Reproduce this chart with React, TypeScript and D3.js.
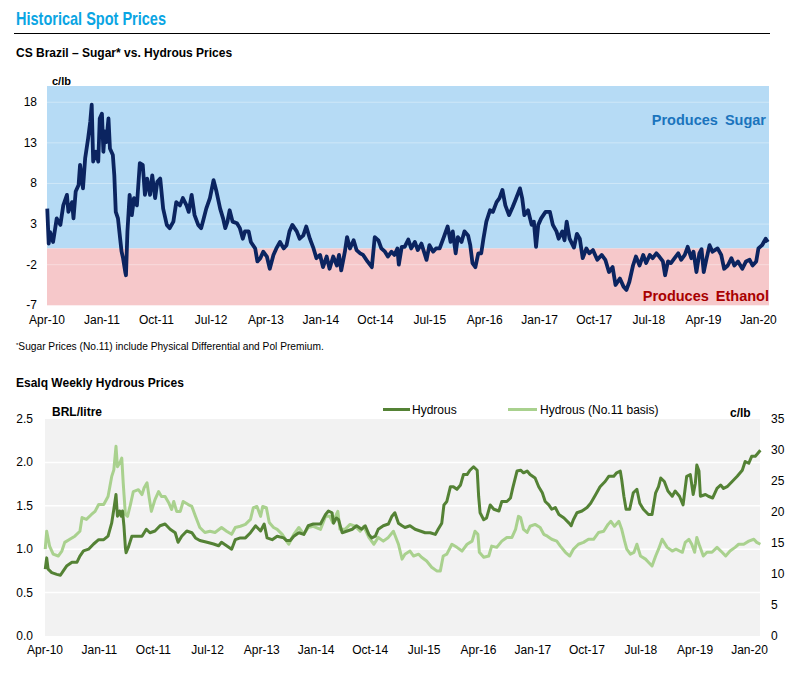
import React from 'react';
import * as d3 from 'd3';

// sugar premium over hydrous, c/lb  [decimal year, value]
const sugarPremium: [number, number][] = [
  [2010.25, 4.9], [2010.27, 0.6], [2010.29, 2.0], [2010.33, 0.8], [2010.38, 3.7], [2010.43, 2.9], [2010.47, 5.3],
  [2010.52, 6.6], [2010.54, 4.5], [2010.59, 5.7], [2010.61, 3.7], [2010.64, 7.0], [2010.68, 7.8], [2010.70, 10.3],
  [2010.74, 7.4], [2010.77, 11.1], [2010.81, 13.5], [2010.84, 15.6], [2010.86, 17.7], [2010.88, 10.7], [2010.92, 11.9],
  [2010.95, 10.7], [2010.97, 16.0], [2011.00, 16.6], [2011.02, 11.9], [2011.04, 14.4], [2011.06, 13.1], [2011.09, 16.0],
  [2011.11, 12.3], [2011.15, 11.5], [2011.17, 9.0], [2011.19, 4.5], [2011.22, 3.7], [2011.25, 1.2], [2011.27, -0.4],
  [2011.29, -1.2], [2011.32, -2.9], [2011.33, -3.3], [2011.35, 2.1], [2011.38, 6.6], [2011.41, 4.1], [2011.44, 6.2],
  [2011.48, 5.3], [2011.52, 10.5], [2011.56, 10.3], [2011.59, 6.6], [2011.62, 8.6], [2011.66, 6.6], [2011.69, 9.0],
  [2011.73, 6.2], [2011.76, 8.2], [2011.80, 8.6], [2011.84, 4.9], [2011.89, 2.9], [2011.93, 2.5], [2011.98, 3.3],
  [2012.02, 5.7], [2012.07, 5.3], [2012.11, 6.2], [2012.16, 5.3], [2012.19, 4.5], [2012.23, 6.6], [2012.27, 4.1],
  [2012.32, 2.9], [2012.36, 2.5], [2012.39, 3.5], [2012.43, 4.9], [2012.48, 6.2], [2012.53, 8.4], [2012.57, 7.0],
  [2012.62, 4.9], [2012.66, 3.7], [2012.69, 2.5], [2012.72, 3.3], [2012.75, 4.7], [2012.79, 3.3], [2012.85, 3.1],
  [2012.89, 2.5], [2012.93, 1.2], [2012.96, 2.1], [2013.01, 2.1], [2013.04, 0.8], [2013.10, 0], [2013.13, -1.6],
  [2013.17, -1.2], [2013.21, -0.4], [2013.26, -1.0], [2013.30, -2.5], [2013.35, -0.8], [2013.39, 0], [2013.44, 0.8],
  [2013.49, 0], [2013.53, 0.4], [2013.57, 2.1], [2013.61, 2.9], [2013.67, 2.1], [2013.71, 1.2], [2013.76, 1.6],
  [2013.80, 2.7], [2013.85, 1.2], [2013.90, 0], [2013.94, -1.2], [2013.99, -0.8], [2014.03, -2.3], [2014.08, -1.0],
  [2014.12, -2.5], [2014.17, -1.0], [2014.22, -2.1], [2014.25, -0.8], [2014.28, -2.7], [2014.33, -0.4], [2014.36, 1.4],
  [2014.40, 0], [2014.45, 1.0], [2014.49, -0.2], [2014.54, -0.6], [2014.58, -0.8], [2014.64, -1.6], [2014.70, -2.3],
  [2014.74, 1.4], [2014.79, 1.0], [2014.83, 0], [2014.88, -0.4], [2014.92, -1.0], [2014.97, -0.4], [2015.01, -0.8],
  [2015.05, 0], [2015.07, -2.0], [2015.11, 0.2], [2015.15, 0.2], [2015.20, 1.1], [2015.24, 0], [2015.29, 0.8],
  [2015.33, -0.2], [2015.38, 0.6], [2015.45, -1.4], [2015.49, 0.4], [2015.54, -0.4], [2015.58, 0], [2015.63, 0],
  [2015.68, 1.2], [2015.74, 2.7], [2015.78, 0.8], [2015.81, 2.1], [2015.85, -0.6], [2015.88, 1.4], [2015.93, 0.8],
  [2015.97, 2.1], [2016.02, 1.6], [2016.05, 0.4], [2016.08, -1.8], [2016.12, -2.3], [2016.16, -0.6], [2016.20, -0.6],
  [2016.23, 1.2], [2016.27, 3.3], [2016.32, 4.7], [2016.36, 4.5], [2016.41, 5.7], [2016.45, 6.2], [2016.49, 7.2],
  [2016.53, 5.3], [2016.58, 4.1], [2016.63, 5.1], [2016.67, 6.0], [2016.73, 7.4], [2016.76, 6.2], [2016.79, 4.1],
  [2016.84, 4.7], [2016.89, 2.9], [2016.92, 3.3], [2016.95, 0.2], [2016.98, 2.9], [2017.02, 3.7], [2017.08, 4.5],
  [2017.14, 4.5], [2017.18, 2.9], [2017.23, 2.1], [2017.26, 1.2], [2017.31, 2.1], [2017.34, 1.0], [2017.37, 3.3],
  [2017.41, 1.2], [2017.47, 0.1], [2017.51, 1.8], [2017.55, 1.2], [2017.59, -1.2], [2017.64, 0], [2017.68, -0.6],
  [2017.73, -0.2], [2017.79, -1.4], [2017.85, -0.8], [2017.90, -1.4], [2017.95, -2.9], [2018.00, -2.3], [2018.04, -4.5],
  [2018.10, -3.7], [2018.15, -4.7], [2018.19, -5.1], [2018.23, -4.1], [2018.28, -2.1], [2018.32, -1.0], [2018.37, -2.1],
  [2018.42, -0.8], [2018.46, -1.8], [2018.51, -0.8], [2018.55, -1.2], [2018.60, -0.6], [2018.64, -1.0], [2018.69, -1.6],
  [2018.72, -3.3], [2018.76, -1.6], [2018.80, -1.8], [2018.85, -1.2], [2018.90, -0.6], [2018.94, -1.4], [2018.99, -0.8],
  [2019.03, 0.2], [2019.08, -1.2], [2019.11, -0.4], [2019.15, -2.9], [2019.19, -0.6], [2019.22, -0.1], [2019.25, -2.9],
  [2019.29, -1.2], [2019.33, 0.4], [2019.37, -0.4], [2019.44, 0], [2019.49, -0.8], [2019.53, -2.5], [2019.58, -2.1],
  [2019.63, -1.2], [2019.67, -2.1], [2019.72, -1.6], [2019.78, -2.5], [2019.83, -1.6], [2019.88, -1.4], [2019.92, -2.1],
  [2019.97, -1.6], [2020.00, 0], [2020.05, 0.4], [2020.10, 1.2], [2020.13, 0.8],
];

// Esalq hydrous, BRL/litre
const hydrous: [number, number][] = [
  [2010.25, 0.77], [2010.27, 0.90], [2010.29, 0.77], [2010.34, 0.73], [2010.41, 0.71], [2010.46, 0.70], [2010.50, 0.75],
  [2010.55, 0.81], [2010.62, 0.85], [2010.69, 0.85], [2010.73, 0.92], [2010.78, 0.98], [2010.85, 1.00], [2010.92, 1.06],
  [2010.99, 1.11], [2011.06, 1.11], [2011.12, 1.15], [2011.17, 1.30], [2011.20, 1.46], [2011.23, 1.63], [2011.25, 1.38],
  [2011.28, 1.44], [2011.30, 1.38], [2011.32, 1.44], [2011.34, 1.27], [2011.36, 1.02], [2011.37, 0.96], [2011.40, 1.02],
  [2011.45, 1.15], [2011.52, 1.15], [2011.59, 1.15], [2011.65, 1.23], [2011.70, 1.19], [2011.77, 1.21], [2011.84, 1.27],
  [2011.91, 1.29], [2011.98, 1.23], [2012.05, 1.19], [2012.09, 1.08], [2012.14, 1.15], [2012.21, 1.21], [2012.28, 1.19],
  [2012.33, 1.13], [2012.39, 1.10], [2012.49, 1.08], [2012.58, 1.06], [2012.65, 1.04], [2012.69, 1.08], [2012.76, 1.04],
  [2012.83, 1.00], [2012.88, 1.11], [2012.95, 1.13], [2013.02, 1.13], [2013.09, 1.19], [2013.16, 1.27], [2013.23, 1.21],
  [2013.28, 1.29], [2013.32, 1.13], [2013.39, 1.11], [2013.46, 1.15], [2013.55, 1.13], [2013.59, 1.10], [2013.64, 1.10],
  [2013.69, 1.15], [2013.76, 1.19], [2013.83, 1.17], [2013.89, 1.27], [2013.96, 1.29], [2014.06, 1.29], [2014.13, 1.40],
  [2014.17, 1.44], [2014.22, 1.42], [2014.24, 1.30], [2014.28, 1.36], [2014.31, 1.34], [2014.36, 1.19], [2014.43, 1.21],
  [2014.50, 1.23], [2014.56, 1.27], [2014.63, 1.23], [2014.68, 1.27], [2014.73, 1.17], [2014.77, 1.13], [2014.82, 1.15],
  [2014.86, 1.23], [2014.93, 1.27], [2015.00, 1.29], [2015.05, 1.38], [2015.09, 1.42], [2015.14, 1.30], [2015.19, 1.27],
  [2015.23, 1.25], [2015.30, 1.27], [2015.37, 1.23], [2015.44, 1.21], [2015.51, 1.19], [2015.58, 1.19], [2015.65, 1.17],
  [2015.69, 1.23], [2015.74, 1.30], [2015.77, 1.51], [2015.81, 1.55], [2015.86, 1.72], [2015.90, 1.72], [2015.95, 1.69],
  [2016.00, 1.74], [2016.04, 1.86], [2016.09, 1.86], [2016.13, 1.91], [2016.18, 1.95], [2016.23, 1.91], [2016.25, 1.61],
  [2016.27, 1.42], [2016.32, 1.34], [2016.36, 1.36], [2016.41, 1.51], [2016.46, 1.46], [2016.53, 1.44], [2016.57, 1.55],
  [2016.64, 1.55], [2016.69, 1.59], [2016.72, 1.70], [2016.78, 1.90], [2016.83, 1.91], [2016.87, 1.88], [2016.92, 1.90],
  [2016.96, 1.86], [2017.03, 1.82], [2017.08, 1.72], [2017.13, 1.65], [2017.17, 1.55], [2017.22, 1.51], [2017.26, 1.46],
  [2017.31, 1.48], [2017.36, 1.40], [2017.43, 1.36], [2017.50, 1.30], [2017.53, 1.27], [2017.56, 1.34], [2017.61, 1.42],
  [2017.68, 1.44], [2017.75, 1.48], [2017.80, 1.53], [2017.87, 1.63], [2017.93, 1.72], [2018.00, 1.78], [2018.05, 1.84],
  [2018.12, 1.84], [2018.16, 1.88], [2018.21, 1.90], [2018.23, 1.80], [2018.26, 1.61], [2018.29, 1.46], [2018.34, 1.46],
  [2018.39, 1.65], [2018.44, 1.69], [2018.48, 1.53], [2018.53, 1.46], [2018.60, 1.40], [2018.65, 1.40], [2018.70, 1.65],
  [2018.74, 1.72], [2018.77, 1.82], [2018.82, 1.78], [2018.87, 1.67], [2018.93, 1.61], [2018.97, 1.67], [2019.03, 1.61],
  [2019.08, 1.51], [2019.13, 1.84], [2019.18, 1.86], [2019.22, 1.63], [2019.25, 1.76], [2019.27, 1.97], [2019.30, 1.90],
  [2019.32, 1.61], [2019.39, 1.63], [2019.43, 1.61], [2019.49, 1.59], [2019.55, 1.70], [2019.60, 1.74], [2019.64, 1.70],
  [2019.69, 1.72], [2019.76, 1.78], [2019.83, 1.84], [2019.90, 1.91], [2019.94, 2.01], [2019.99, 1.99], [2020.03, 2.07],
  [2020.08, 2.07], [2020.11, 2.10], [2020.15, 2.14],
];

// hydrous on No.11 basis, c/lb
const hydrousNo11: [number, number][] = [
  [2010.25, 14.0], [2010.27, 16.9], [2010.31, 14.5], [2010.36, 13.2], [2010.43, 12.9], [2010.48, 13.7], [2010.52, 15.1],
  [2010.59, 15.6], [2010.66, 16.1], [2010.73, 16.9], [2010.76, 19.1], [2010.82, 18.8], [2010.89, 19.6], [2010.94, 20.1],
  [2010.99, 21.2], [2011.06, 21.2], [2011.12, 22.5], [2011.17, 25.7], [2011.20, 26.8], [2011.23, 30.6], [2011.25, 27.3],
  [2011.29, 28.1], [2011.31, 28.7], [2011.33, 24.7], [2011.36, 19.6], [2011.39, 19.3], [2011.43, 21.2], [2011.47, 23.3],
  [2011.54, 23.6], [2011.59, 22.8], [2011.62, 23.9], [2011.66, 24.7], [2011.69, 22.3], [2011.72, 20.1], [2011.77, 22.0],
  [2011.82, 23.3], [2011.86, 22.5], [2011.91, 22.5], [2011.96, 21.5], [2012.00, 20.4], [2012.03, 21.7], [2012.07, 20.1],
  [2012.12, 20.1], [2012.16, 21.7], [2012.23, 21.2], [2012.28, 20.9], [2012.33, 19.3], [2012.39, 17.5], [2012.46, 16.7],
  [2012.53, 16.9], [2012.60, 16.7], [2012.69, 17.5], [2012.76, 16.9], [2012.83, 16.4], [2012.88, 17.5], [2012.95, 17.7],
  [2013.02, 18.0], [2013.09, 18.8], [2013.13, 20.7], [2013.18, 20.9], [2013.23, 19.3], [2013.26, 20.9], [2013.31, 20.7],
  [2013.35, 18.3], [2013.41, 17.5], [2013.46, 17.2], [2013.53, 16.4], [2013.59, 15.3], [2013.62, 14.8], [2013.69, 16.4],
  [2013.76, 17.5], [2013.83, 16.4], [2013.89, 17.5], [2013.96, 17.7], [2014.06, 17.2], [2014.13, 19.3], [2014.19, 19.3],
  [2014.23, 18.3], [2014.30, 20.1], [2014.33, 17.2], [2014.40, 17.2], [2014.47, 18.0], [2014.54, 17.7], [2014.61, 16.9],
  [2014.66, 17.7], [2014.73, 15.9], [2014.80, 14.8], [2014.86, 15.9], [2014.93, 15.3], [2015.00, 15.9], [2015.07, 16.9],
  [2015.14, 14.8], [2015.19, 12.4], [2015.23, 13.2], [2015.30, 13.7], [2015.35, 12.9], [2015.42, 13.2], [2015.46, 12.7],
  [2015.53, 12.1], [2015.60, 11.1], [2015.67, 10.5], [2015.72, 10.5], [2015.76, 12.9], [2015.81, 13.2], [2015.88, 14.8],
  [2015.95, 14.3], [2016.02, 13.7], [2016.09, 14.8], [2016.16, 15.3], [2016.20, 16.9], [2016.24, 16.4], [2016.26, 13.5],
  [2016.32, 12.7], [2016.39, 12.9], [2016.43, 14.5], [2016.50, 14.3], [2016.57, 15.3], [2016.64, 15.9], [2016.71, 15.9],
  [2016.76, 17.2], [2016.80, 19.3], [2016.83, 19.1], [2016.87, 17.2], [2016.92, 16.7], [2016.96, 17.7], [2017.03, 18.0],
  [2017.10, 17.5], [2017.15, 16.4], [2017.20, 16.1], [2017.26, 15.6], [2017.33, 15.3], [2017.38, 14.5], [2017.45, 13.5],
  [2017.51, 12.9], [2017.56, 14.0], [2017.63, 14.8], [2017.70, 15.1], [2017.77, 15.6], [2017.84, 15.6], [2017.91, 16.7],
  [2017.98, 16.9], [2018.04, 18.0], [2018.08, 18.5], [2018.13, 17.7], [2018.19, 18.5], [2018.23, 17.2], [2018.27, 15.3],
  [2018.30, 14.0], [2018.35, 13.2], [2018.40, 13.5], [2018.44, 14.8], [2018.49, 12.9], [2018.56, 12.4], [2018.60, 11.9],
  [2018.65, 11.3], [2018.70, 12.9], [2018.74, 14.0], [2018.79, 15.6], [2018.86, 14.3], [2018.93, 13.7], [2018.98, 14.0],
  [2019.07, 13.5], [2019.11, 15.1], [2019.16, 15.6], [2019.20, 14.8], [2019.24, 13.5], [2019.27, 15.9], [2019.31, 14.5],
  [2019.36, 12.9], [2019.41, 13.5], [2019.48, 13.5], [2019.55, 14.3], [2019.62, 13.5], [2019.67, 12.9], [2019.73, 13.7],
  [2019.80, 14.3], [2019.85, 14.8], [2019.92, 14.8], [2019.99, 15.3], [2020.06, 15.6], [2020.10, 15.1], [2020.15, 14.8],
];

const xTickLabels = ['Apr-10', 'Jan-11', 'Oct-11', 'Jul-12', 'Apr-13', 'Jan-14', 'Oct-14', 'Jul-15', 'Apr-16', 'Jan-17', 'Oct-17', 'Jul-18', 'Apr-19', 'Jan-20'];
const premiumTicks = [-7, -2, 3, 8, 13, 18];
const brlTicks = [0, 0.5, 1.0, 1.5, 2.0, 2.5];
const clbTicks = [0, 5, 10, 15, 20, 25, 30, 35];

const FONT = 'Arial, "Liberation Sans", sans-serif';
const NARROW = '"Arial Narrow", "Liberation Sans Narrow", Arial, sans-serif';

const toDate = (y: number) => {
  const yr = Math.floor(y);
  const a = new Date(yr, 0, 1).getTime();
  const b = new Date(yr + 1, 0, 1).getTime();
  return new Date(a + (y - yr) * (b - a));
};
const parseTick = d3.timeParse('%b-%y');
const xDomain: [Date, Date] = [new Date(2010, 3, 1), toDate(2020.145)];

export default function App() {
  // top chart
  const x1 = d3.scaleTime().domain(xDomain).range([47, 769]);
  const y1 = d3.scaleLinear().domain([-7, 20]).range([305.3, 86]);
  const line1 = d3.line<[number, number]>().x((d) => x1(toDate(d[0]))).y((d) => y1(d[1]));

  // bottom chart
  const x2 = d3.scaleTime().domain(xDomain).range([45, 760]);
  const yL = d3.scaleLinear().domain([0, 2.5]).range([636, 419]);
  const yR = d3.scaleLinear().domain([0, 35]).range([636, 419]);
  const lineL = d3.line<[number, number]>().x((d) => x2(toDate(d[0]))).y((d) => yL(d[1]));
  const lineR = d3.line<[number, number]>().x((d) => x2(toDate(d[0]))).y((d) => yR(d[1]));

  return (
    <svg width={806} height={683} style={{ position: 'absolute', left: 0, top: 0, background: '#fff' }} fontFamily={FONT}>
      {/* header */}
      <text x={16} y={25} fontFamily={NARROW} fontWeight="bold" fontSize={19} fill="#0AA5E3" textLength={150} lengthAdjust="spacingAndGlyphs">
        Historical Spot Prices
      </text>
      <line x1={14} x2={770} y1={33.5} y2={33.5} stroke="#000" strokeWidth={1} />
      <text x={16} y={57} fontWeight="bold" fontSize={12} fill="#000">CS Brazil – Sugar* vs. Hydrous Prices</text>

      {/* top chart */}
      <rect x={47} y={y1(20)} width={722} height={y1(0) - y1(20)} fill="#B6DBF5" />
      <rect x={47} y={y1(0)} width={722} height={y1(-7) - y1(0)} fill="#F6C8CA" />
      {premiumTicks.filter((t) => t > -7).map((t) => (
        <line key={t} x1={47} x2={769} y1={y1(t)} y2={y1(t)} stroke="#fff" strokeOpacity={0.35} strokeWidth={1} />
      ))}
      {premiumTicks.map((t) => (
        <text key={t} x={37} y={y1(t) + 4} fontSize={12} textAnchor="end" fill="#000">{t}</text>
      ))}
      <text x={52} y={85} fontSize={11} fontWeight="bold" fill="#000">c/lb</text>
      <text x={766} y={125} fontSize={14.5} fontWeight="bold" fill="#1A74BD" textAnchor="end" wordSpacing={3}>Produces Sugar</text>
      <text x={769} y={301} fontSize={14.5} fontWeight="bold" fill="#A80000" textAnchor="end" wordSpacing={3}>Produces Ethanol</text>
      <path d={line1(sugarPremium) || ''} fill="none" stroke="#0B2460" strokeWidth={3.8} strokeLinejoin="round" />
      {xTickLabels.map((l) => (
        <text key={l} x={x1(parseTick(l) as Date)} y={324} fontSize={12} textAnchor="middle" fill="#000">{l}</text>
      ))}

      {/* footnote */}
      <text x={16} y={350} fontSize={10.2} fill="#000">
        <tspan fontSize={6} dy={-3}>*</tspan>
        <tspan dy={3}>Sugar Prices (No.11) include Physical Differential and Pol Premium.</tspan>
      </text>

      {/* bottom chart */}
      <text x={16} y={387} fontWeight="bold" fontSize={12} fill="#000">Esalq Weekly Hydrous Prices</text>
      <rect x={45} y={419} width={715} height={217} fill="#F2F2F2" />
      {brlTicks.filter((t) => t > 0 && t < 2.5).map((t) => (
        <line key={t} x1={45} x2={760} y1={yL(t)} y2={yL(t)} stroke="#fff" strokeWidth={1.5} />
      ))}
      {brlTicks.map((t) => (
        <text key={t} x={33} y={yL(t) + 4} fontSize={12} textAnchor="end" fill="#000">{t.toFixed(1)}</text>
      ))}
      {clbTicks.map((t) => (
        <text key={t} x={771} y={yR(t) + 4} fontSize={12} textAnchor="start" fill="#000">{t}</text>
      ))}
      <text x={52} y={416} fontSize={12} fontWeight="bold" fill="#000">BRL/litre</text>
      <text x={730} y={417} fontSize={12} fontWeight="bold" fill="#000">c/lb</text>

      <path d={lineR(hydrousNo11) || ''} fill="none" stroke="#A9D18E" strokeWidth={3} strokeLinejoin="round" />
      <path d={lineL(hydrous) || ''} fill="none" stroke="#548235" strokeWidth={3} strokeLinejoin="round" />

      {/* legend */}
      <line x1={383} x2={410} y1={409.5} y2={409.5} stroke="#548235" strokeWidth={3} />
      <text x={412} y={413.5} fontSize={12} fill="#000">Hydrous</text>
      <line x1={508} x2={537} y1={409.5} y2={409.5} stroke="#A9D18E" strokeWidth={3} />
      <text x={540} y={413.5} fontSize={12} fill="#000">Hydrous (No.11 basis)</text>

      {xTickLabels.map((l) => (
        <text key={l} x={x2(parseTick(l) as Date)} y={654} fontSize={12} textAnchor="middle" fill="#000">{l}</text>
      ))}
    </svg>
  );
}
